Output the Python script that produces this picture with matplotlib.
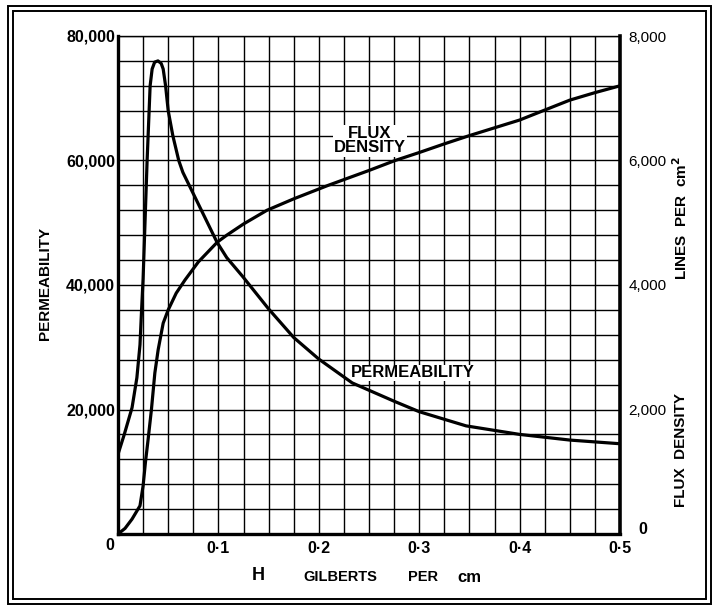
import matplotlib

matplotlib.use("Agg")
import matplotlib.pyplot as plt
import numpy as np
from matplotlib.patches import Rectangle

# --- data ----------------------------------------------------------------
# permeability curve (left axis)
perm_h = [0.0, 0.00625, 0.014, 0.0188, 0.0219, 0.0234, 0.025, 0.029,
          0.031, 0.032, 0.034, 0.0365, 0.0398, 0.043, 0.045, 0.0474,
          0.050, 0.0546, 0.0605, 0.0646, 0.0743, 0.0985, 0.1083, 0.124,
          0.15, 0.175, 0.2, 0.2333, 0.275, 0.3, 0.3467, 0.4, 0.45, 0.5]
perm_mu = [12800, 16000, 20300, 25100, 30400, 35700, 41000, 60000,
           68000, 72000, 74700, 75800, 76000, 75600, 74700, 72000,
           68000, 64000, 60000, 58100, 54900, 46900, 44400, 41400,
           36160, 31570, 28100, 24270, 21330, 19650, 17370, 16000, 15090,
           14500]

# flux density curve (right axis, lines per cm^2)
flux_h = [0.0, 0.007, 0.014, 0.0219, 0.025, 0.0273, 0.030, 0.0333,
          0.0367, 0.040, 0.045, 0.050, 0.058, 0.0667, 0.080, 0.099,
          0.1083, 0.125, 0.1483, 0.175, 0.2092, 0.25, 0.276, 0.3, 0.325,
          0.35, 0.375, 0.4, 0.425, 0.45, 0.475, 0.5]
flux_b = [0, 90, 240, 453, 773, 1147, 1520, 2000,
          2587, 2960, 3387, 3600, 3870, 4080, 4370, 4690,
          4800, 4980, 5200, 5384, 5600, 5840, 6000, 6128, 6267,
          6400, 6525, 6650, 6810, 6970, 7090, 7200]

x_ticks = [0.1, 0.2, 0.3, 0.4, 0.5]
x_labels = ["0\u00b71", "0\u00b72", "0\u00b73", "0\u00b74", "0\u00b75"]
left_ticks = [20000, 40000, 60000, 80000]
left_labels = ["20,000", "40,000", "60,000", "80,000"]
right_ticks = [2000, 4000, 6000, 8000]
right_labels = ["2,000", "4,000", "6,000", "8,000"]

# --- figure -----------------------------------------------------------------
W, H = 714, 607
plt.rcParams["font.family"] = ["Liberation Sans", "DejaVu Sans"]
fig = plt.figure(figsize=(W / 100, H / 100), dpi=100)
fig.patch.set_facecolor("white")


def fx(x):
    return x / W


def fy(y):
    return 1 - y / H


# double border round the whole sheet
for (x0, y0, x1, y1) in [(8, 6, 711, 604), (13, 11, 706, 599)]:
    fig.add_artist(Rectangle((fx(x0), fy(y1)), fx(x1) - fx(x0), fy(y0) - fy(y1),
                             transform=fig.transFigure, fill=False,
                             lw=1.4, ec="black"))

ax = fig.add_axes([fx(118), fy(534), fx(620) - fx(118), fy(36) - fy(534)])
ax.set_xlim(0, 0.5)
ax.set_ylim(0, 80000)

# 20 x 20 square grid
ax.set_xticks(np.arange(0, 0.5001, 0.025), minor=True)
ax.set_yticks(np.arange(0, 80001, 4000), minor=True)
ax.grid(which="both", color="black", lw=1.0)
ax.set_axisbelow(True)
ax.tick_params(which="both", length=0)

ax.set_xticks(x_ticks)
ax.set_xticklabels(x_labels, fontsize=11.5, fontweight="bold")
ax.tick_params(axis="x", pad=5)
ax.set_yticks(left_ticks)
ax.set_yticklabels(left_labels, fontsize=11.5, fontweight="bold")
ax.tick_params(axis="y", pad=2)

for side in ("left", "bottom"):
    ax.spines[side].set_linewidth(2.4)
ax.spines["top"].set_linewidth(1.0)
ax.spines["right"].set_linewidth(2.6)

ax.plot(perm_h, perm_mu, color="black", lw=2.3, solid_joinstyle="round",
        solid_capstyle="round", zorder=3)

ax2 = ax.twinx()
ax2.set_ylim(0, 8000)
ax2.set_yticks(right_ticks)
ax2.set_yticklabels(right_labels, fontsize=11)
ax2.tick_params(length=0, pad=6)
for s in ax2.spines.values():
    s.set_visible(False)
ax2.plot(flux_h, flux_b, color="black", lw=2.3, solid_joinstyle="round",
         solid_capstyle="round", zorder=3)

# curve labels with white patches over the grid (kept under the curves)
ax2.text(0.251, 6320, "FLUX\nDENSITY", ha="center", va="center",
         fontsize=12, fontweight="bold", linespacing=0.95, zorder=2,
         bbox=dict(facecolor="white", edgecolor="none", pad=1))
ax.text(0.294, 25900, "PERMEABILITY", ha="center", va="center",
        fontsize=12, fontweight="bold", zorder=2,
        bbox=dict(facecolor="white", edgecolor="none", pad=0.5))

# zeros and axis titles
fig.text(fx(110), fy(546), "0", ha="center", va="center", fontsize=11.5,
         fontweight="bold")
fig.text(fx(643), fy(530), "0", ha="center", va="center", fontsize=11.5,
         fontweight="bold")
fig.text(fx(45), fy(283), "PERMEABILITY", rotation=90, ha="center",
         va="center", fontsize=11, fontweight="bold")
fig.text(fx(681), fy(450), "FLUX  DENSITY", rotation=90, ha="center",
         va="center", fontsize=11, fontweight="bold")
fig.text(fx(681), fy(218), "LINES  PER  cm$^{\\mathbf{2}}$", rotation=90,
         ha="center", va="center", fontsize=11, fontweight="bold")
fig.text(fx(258), fy(575), "H", ha="center", va="center", fontsize=13,
         fontweight="bold")
fig.text(fx(340), fy(577), "GILBERTS", ha="center", va="center",
         fontsize=10.5, fontweight="bold")
fig.text(fx(423), fy(577), "PER", ha="center", va="center",
         fontsize=10.5, fontweight="bold")
fig.text(fx(469), fy(577), "cm", ha="center", va="center",
         fontsize=12, fontweight="bold")

fig.savefig("out.png", dpi=100)
